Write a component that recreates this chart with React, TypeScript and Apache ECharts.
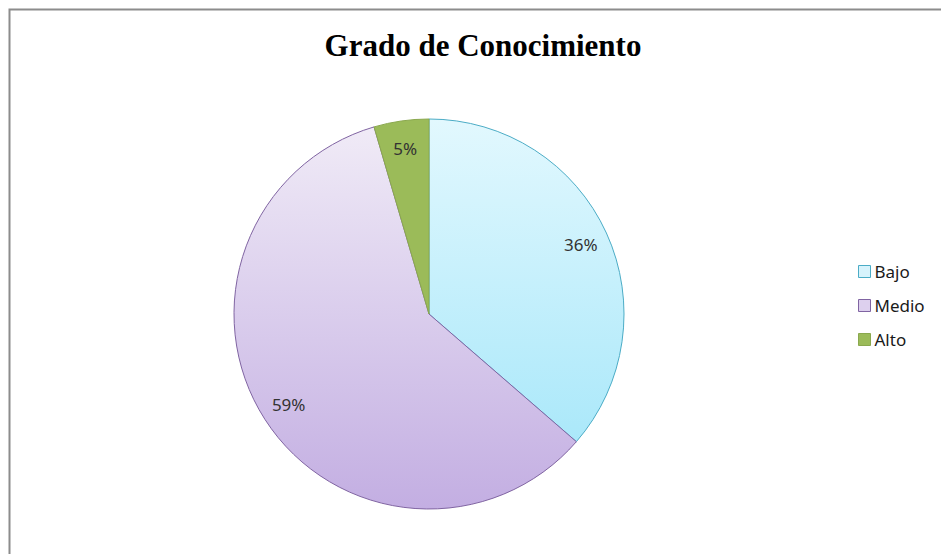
import React, { useEffect, useRef } from "react";
import * as echarts from "echarts";

const titleText = "Grado de Conocimiento";
const categories = ["Bajo", "Medio", "Alto"];
const values = [8, 13, 1];

const CX = 429;
const CY = 314;
const R = 195;

const grad = (top: string, bottom: string) =>
  new echarts.graphic.LinearGradient(0, CY - R, 0, CY + R, [
    { offset: 0, color: top },
    { offset: 1, color: bottom },
  ], true);

const fills = [
  grad("#e2f8fe", "#9fe5f9"),
  grad("#f1ecf7", "#c3aee2"),
  "#9bbb59",
];
const borders = ["#4bacc6", "#8064a2", "#8aa84e"];
const legendFill = ["#d7f3fc", "#ddd0ee", "#9bbb59"];

export default function App() {
  const ref = useRef<HTMLDivElement>(null);
  useEffect(() => {
    const chart = echarts.init(ref.current!, null, { renderer: "svg" });
    chart.setOption({
      animation: false,
      backgroundColor: "#ffffff",
      title: {
        text: titleText,
        left: 478,
        textAlign: "center",
        top: 25,
        textStyle: {
          fontFamily: "Liberation Serif",
          fontWeight: "bold",
          fontSize: 31,
          color: "#000",
        },
      },
      legend: {
        orient: "vertical",
        left: 853,
        top: 258,
        icon: "rect",
        itemWidth: 12,
        itemHeight: 12,
        itemGap: 17,
        textStyle: { fontFamily: "Noto Sans", fontSize: 17, color: "#1a1a1a", padding: [0, 0, 0, -1] },
        data: categories.map((c, i) => ({
          name: c,
          itemStyle: { color: legendFill[i], borderColor: borders[i], borderWidth: 1 },
        })),
      },
      graphic: [
        {
          type: "rect",
          shape: { x: 9.5, y: 9.5, width: 1000, height: 1000 },
          style: { fill: "none", stroke: "#8c8c8c", lineWidth: 2 },
          silent: true,
        },
      ],
      series: [
        {
          type: "pie",
          center: [CX, CY],
          radius: [0, R],
          startAngle: 90,
          clockwise: true,
          label: { show: false },
          labelLine: { show: false },
          emphasis: { disabled: true },
          data: categories.map((c, i) => ({
            name: c,
            value: values[i],
            itemStyle: { color: fills[i], borderColor: borders[i], borderWidth: 1 },
          })),
        },
        {
          type: "pie",
          center: [CX, CY],
          radius: [R * 0.68, R],
          startAngle: 90,
          clockwise: true,
          silent: true,
          legendHoverLink: false,
          percentPrecision: 0,
          itemStyle: { color: "rgba(0,0,0,0)", borderWidth: 0 },
          label: {
            show: true,
            position: "inside",
            fontFamily: "Noto Sans",
            fontSize: 17,
            color: "#333",
            formatter: "{d}%",
          },
          labelLine: { show: false },
          emphasis: { disabled: true },
          data: categories.map((c, i) => ({ name: c, value: values[i] })),
        },
      ],
    });
    return () => chart.dispose();
  }, []);
  return (
    <div
      ref={ref}
      style={{ position: "absolute", left: 0, top: 0, width: 941, height: 554 }}
    />
  );
}
